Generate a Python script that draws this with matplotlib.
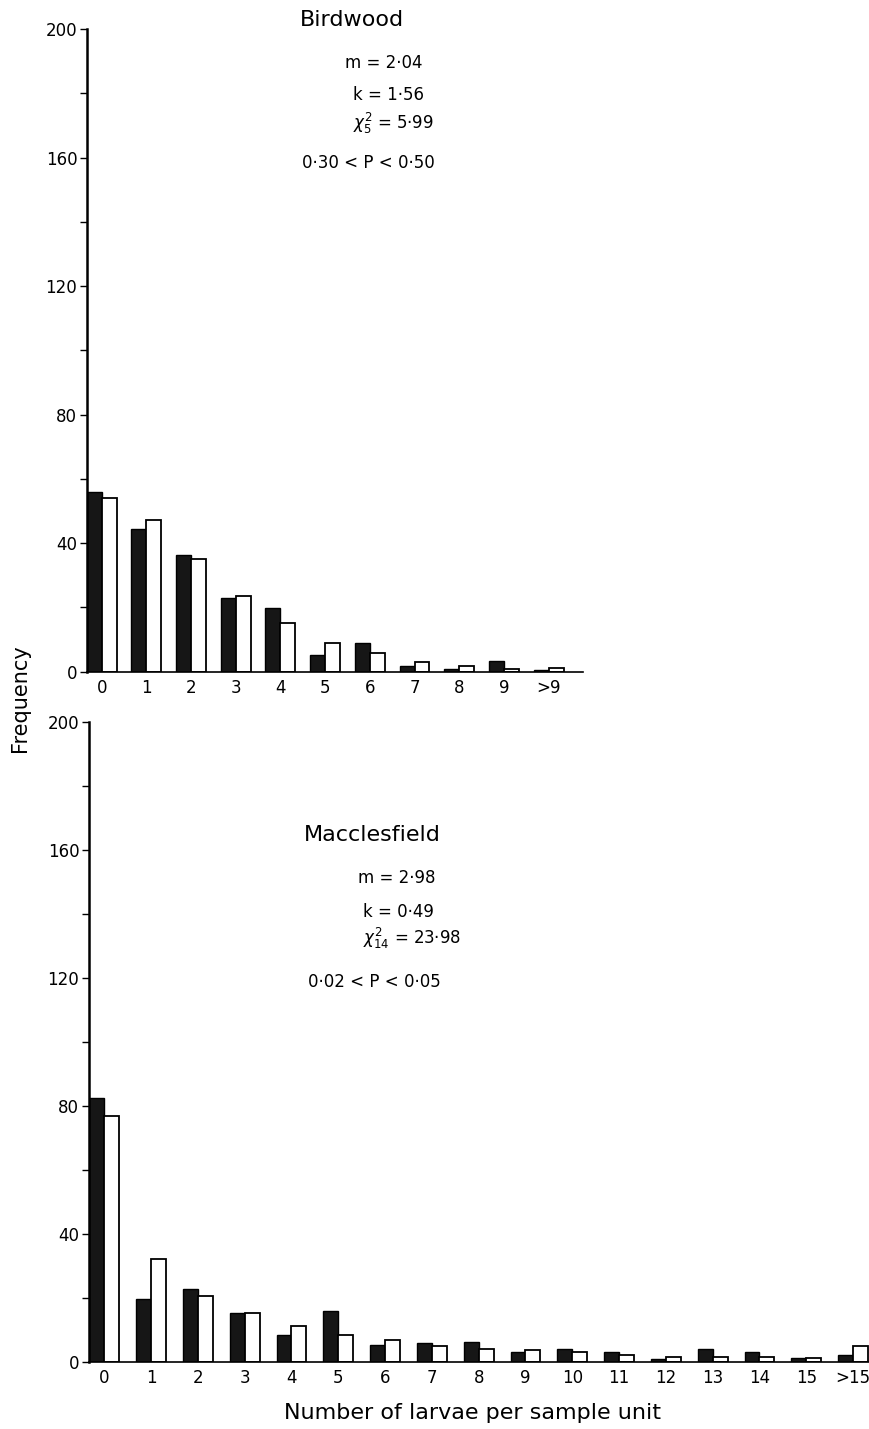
import matplotlib
matplotlib.use("Agg")
import matplotlib.pyplot as plt
from matplotlib.ticker import MultipleLocator

# Birdwood: observed (black) and expected (white) frequencies
bird_labels = ['0', '1', '2', '3', '4', '5', '6', '7', '8', '9', '>9']
bird_obs = [56, 44.5, 36.4, 22.9, 19.8, 5.2, 9.0, 1.9, 0.8, 3.4, 0.5]
bird_exp = [54, 47.3, 35.1, 23.5, 15.2, 9.0, 5.8, 2.9, 1.7, 0.7, 1.3]

# Macclesfield
macc_labels = ['0', '1', '2', '3', '4', '5', '6', '7', '8', '9', '10',
               '11', '12', '13', '14', '15', '>15']
macc_obs = [82.6, 19.9, 22.8, 15.3, 8.5, 16.0, 5.4, 6.1, 6.3, 3.3, 4.1,
            3.3, 1.0, 4.2, 3.1, 1.2, 2.2]
macc_exp = [76.9, 32.3, 20.8, 15.3, 11.3, 8.5, 7.0, 5.2, 4.1, 3.8, 3.3,
            2.2, 1.8, 1.7, 1.7, 1.4, 5.1]

bird_stats = ['m = 2·04', 'k = 1·56', r'$\chi^2_5$ = 5·99', '0·30 < P < 0·50']
macc_stats = ['m = 2·98', 'k = 0·49', r'$\chi^2_{14}$ = 23·98', '0·02 < P < 0·05']

W, H = 870, 1429
fig = plt.figure(figsize=(W / 100, H / 100), dpi=100)
plt.rcParams['mathtext.fontset'] = 'dejavusans'


def px_axes(x0, x1, y_top, y_bot):
    return fig.add_axes([x0 / W, 1 - y_bot / H, (x1 - x0) / W, (y_bot - y_top) / H])


def draw_panel(ax, labels, obs, exp, w, xlim):
    xs = list(range(len(labels)))
    ax.bar([x - w / 2 for x in xs], obs, width=w, color='#161616',
           edgecolor='black', linewidth=1.0)
    ax.bar([x + w / 2 for x in xs], exp, width=w, color='white',
           edgecolor='black', linewidth=1.3)
    ax.set_xlim(*xlim)
    ax.set_ylim(0, 200)
    ax.set_xticks(xs)
    ax.set_xticklabels(labels, fontsize=12)
    ax.tick_params(axis='x', length=0, pad=5)
    ax.yaxis.set_major_locator(MultipleLocator(40))
    ax.yaxis.set_minor_locator(MultipleLocator(20))
    ax.tick_params(axis='y', which='both', direction='out', length=5,
                   width=1, labelsize=12, pad=2)
    ax.spines['top'].set_visible(False)
    ax.spines['right'].set_visible(False)
    ax.spines['left'].set_linewidth(1.8)
    ax.spines['bottom'].set_linewidth(1.2)
    ax.patch.set_alpha(0)


ax1 = px_axes(87, 583, 29, 671.7)
draw_panel(ax1, bird_labels, bird_obs, bird_exp, 0.335, (-0.329, 10.77))

ax2 = px_axes(89, 869, 721.7, 1362.3)
draw_panel(ax2, macc_labels, macc_obs, macc_exp, 0.32, (-0.327, 16.34))


def ftext(x, y, s, **kw):
    fig.text(x / W, 1 - y / H, s, va='center', **kw)


ftext(352, 20, 'Birdwood', ha='center', fontsize=16)
for (x, y), s in zip([(345, 63), (353, 95), (353, 123), (302, 163)], bird_stats):
    ftext(x, y, s, ha='left', fontsize=12)

ftext(372, 835, 'Macclesfield', ha='center', fontsize=16)
for (x, y), s in zip([(358, 878), (363, 912), (363, 938), (308, 982)], macc_stats):
    ftext(x, y, s, ha='left', fontsize=12)

ftext(20, 698, 'Frequency', ha='center', rotation=90, fontsize=15)
ftext(473, 1413, 'Number of larvae per sample unit', ha='center', fontsize=16)

fig.savefig('out.png', dpi=100)
